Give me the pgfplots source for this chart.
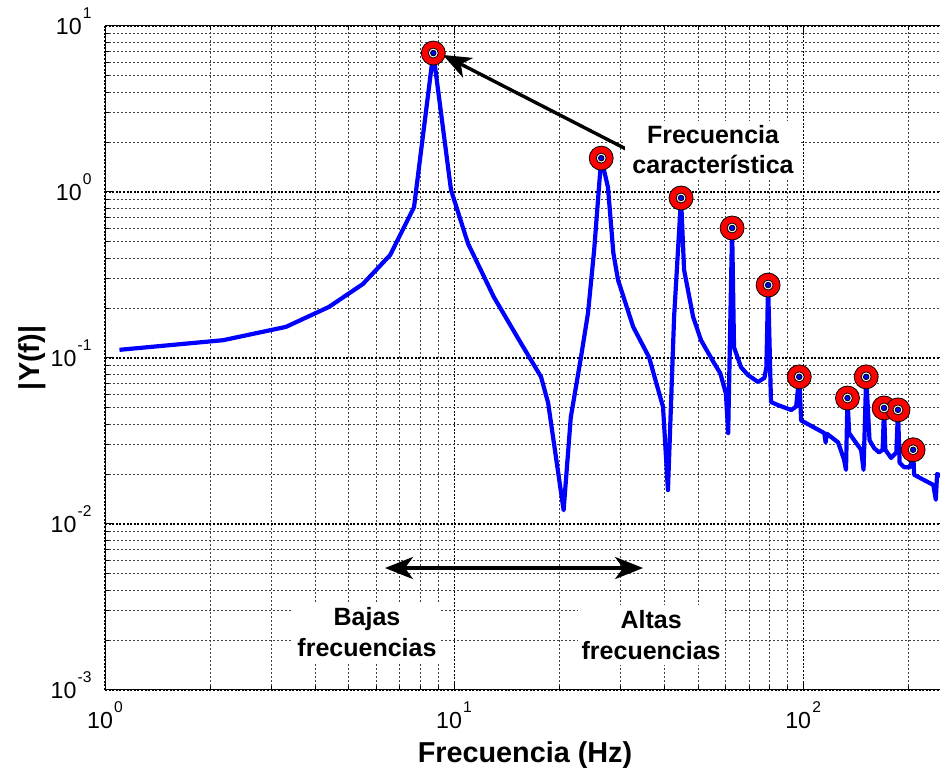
\documentclass[border=0pt]{standalone}
\usepackage{fontspec}
\setmainfont{Liberation Sans}
\usepackage{pgfplots}
\pgfplotsset{compat=1.18}
\usetikzlibrary{arrows.meta}
\newcommand{\tl}[1]{10\kern0.6pt\raisebox{7.8pt}{\fontsize{7.8}{8}\selectfont #1}}
\pgfplotstableread{
x y
1.10 0.112
2.18 0.128
3.30 0.154
4.38 0.203
5.48 0.279
6.56 0.417
7.68 0.81
8.72 6.87
9.80 1.03
10.96 0.49
13.0 0.233
15.3 0.130
17.75 0.077
18.6 0.0537
20.6 0.0121
21.6 0.044
23.1 0.101
24.2 0.187
25.2 0.447
26.4 1.60
27.6 1.07
28.6 0.43
29.5 0.295
32.6 0.154
36.2 0.101
39.7 0.0507
41.0 0.016
42.7 0.177
44.7 0.92
45.6 0.34
48.4 0.177
51.0 0.128
55.6 0.093
57.9 0.081
60.1 0.061
61.0 0.0353
62.6 0.607
63.4 0.116
66.4 0.088
69.5 0.079
74.3 0.0717
77.5 0.076
78.5 0.088
79.4 0.275
80.9 0.0543
84.8 0.052
92.5 0.0486
95.5 0.051
97.5 0.077
98.7 0.042
102 0.0405
115 0.0353
116 0.031
117 0.035
126 0.031
131 0.0244
132.7 0.0212
134 0.0574
135.5 0.0353
140 0.032
146.6 0.028
149 0.0212
151.6 0.077
155 0.032
159.7 0.0287
165 0.027
169 0.028
170.6 0.050
172 0.028
178.7 0.025
185 0.027
187 0.0487
189 0.0234
194.6 0.022
203 0.022
206.6 0.028
208 0.0198
222 0.0184
236 0.0172
240 0.0140
242 0.020
255 0.019
}\curve
\pgfplotstableread{
x y
8.72 6.87
26.4 1.60
44.7 0.92
62.6 0.607
79.4 0.275
97.5 0.077
134 0.0574
151.6 0.077
170.6 0.050
187 0.0487
206.6 0.028
}\peaks
\begin{document}
\begin{tikzpicture}
\begin{axis}[
  xmode=log, ymode=log,
  scale only axis, width=420pt, height=332pt,
  xmin=1, xmax=255, ymin=1e-3, ymax=10,
  xtick={1,10,100}, xticklabels={\tl{0},\tl{1},\tl{2}},
  ytick={1e-3,1e-2,1e-1,1,10},
  yticklabels={\tl{-3},\tl{-2},\tl{-1},\tl{0},\tl{1}},
  minor xtick={2,3,4,5,6,7,8,9,20,30,40,50,60,70,80,90,200},
  minor ytick={0.002,0.003,0.004,0.005,0.006,0.007,0.008,0.009,
               0.02,0.03,0.04,0.05,0.06,0.07,0.08,0.09,
               0.2,0.3,0.4,0.5,0.6,0.7,0.8,0.9,
               2,3,4,5,6,7,8,9},
  tick label style={font=\fontsize{11.6}{12}\selectfont},
  xticklabel style={anchor=base, inner sep=0pt, yshift=-19pt},
  yticklabel style={anchor=base east, inner sep=0pt, xshift=-6.5pt, yshift=-4.1pt},
  tick align=inside,
  major tick length=4pt, minor tick length=2.2pt,
  every tick/.style={black, line width=0.5pt},
  axis line style={black, line width=0.5pt},
  grid=both,
  major grid style={black, line width=0.55pt, dash pattern=on 1pt off 0.8pt},
  minor grid style={black!75, line width=0.5pt, dash pattern=on 1pt off 1pt},
  xlabel={Frecuencia (Hz)},
  ylabel={|Y(f)|},
  label style={font=\bfseries\fontsize{14.4}{16}\selectfont},
  xlabel style={at={(axis description cs:0.5,-0.1099)}, anchor=base, inner sep=0pt},
  ylabel style={at={(axis description cs:-0.0700,0.5)}, anchor=south, inner sep=0pt},
]
\addplot[blue, line width=2.1pt, line join=round] table[x=x,y=y] {\curve};
\addplot[only marks, mark=*, mark size=6pt, mark options={draw=none, fill=red}] table[x=x,y=y] {\peaks};
\addplot[only marks, mark=*, mark size=2.5pt, mark options={draw=none, fill=white}] table[x=x,y=y] {\peaks};
\addplot[only marks, mark=*, mark size=1.4pt, mark options={draw=none, fill=blue}] table[x=x,y=y] {\peaks};

\draw[line width=1.7pt, -{Stealth[length=14pt,width=11pt,inset=4pt]}]
  (axis cs:31.5,1.79) -- (axis cs:9.30,6.69);
\draw[line width=1.8pt, {Stealth[length=14pt,width=11pt,inset=4pt]}-{Stealth[length=14pt,width=11pt,inset=4pt]}]
  (axis cs:6.34,0.00543) -- (axis cs:34.8,0.00543);

\node[fill=white, align=center, inner xsep=3.5pt, inner ysep=2.5pt,
  font=\bfseries\fontsize{12.5}{15}\selectfont] at (axis cs:55.2,1.79) {Frecuencia\\característica};
\node[fill=white, align=center, inner xsep=2pt, inner ysep=2.5pt,
  font=\bfseries\fontsize{12.5}{15.5}\selectfont] at (axis cs:5.63,0.00223) {Bajas\\frecuencias};
\node[fill=white, align=center, inner xsep=2pt, inner ysep=2.5pt,
  font=\bfseries\fontsize{12.5}{15.5}\selectfont] at (axis cs:36.7,0.00214) {Altas\\frecuencias};
\end{axis}
\pgfresetboundingbox
\path ([xshift=-52.5pt,yshift=-41pt]current axis.south west) rectangle ([xshift=417.5pt,yshift=13pt]current axis.north west);
\end{tikzpicture}
\end{document}
